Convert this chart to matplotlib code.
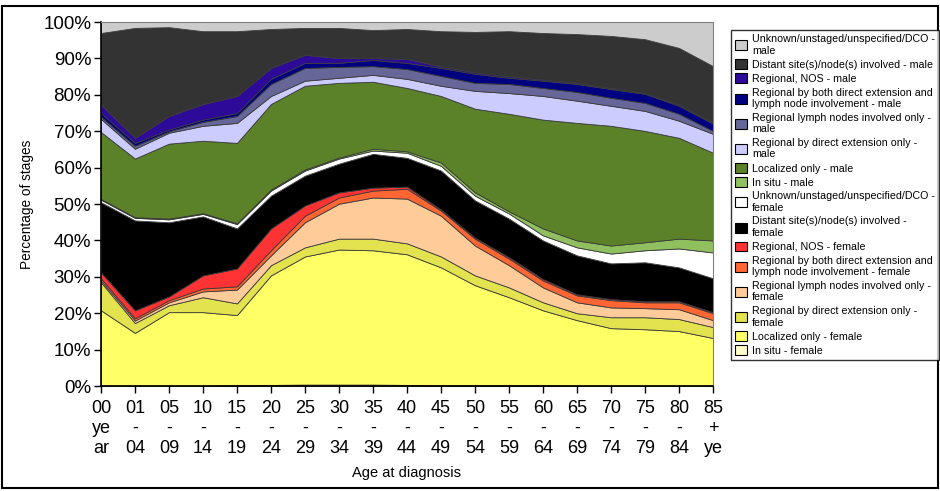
import matplotlib
matplotlib.use("Agg")
import matplotlib.pyplot as plt
from matplotlib.patches import Rectangle
import numpy as np

plt.rcParams['font.family'] = ['Liberation Sans', 'DejaVu Sans']

ages = ["00\nye\nar", "01\n-\n04", "05\n-\n09", "10\n-\n14", "15\n-\n19", "20\n-\n24",
        "25\n-\n29", "30\n-\n34", "35\n-\n39", "40\n-\n44", "45\n-\n49", "50\n-\n54",
        "55\n-\n59", "60\n-\n64", "65\n-\n69", "70\n-\n74", "75\n-\n79", "80\n-\n84", "85\n+\nye"]

# percent of cases by stage, bottom of the stack first
in_situ_f = [0.1, 0.1, 0.1, 0.1, 0.2, 0.3, 0.4, 0.4, 0.4, 0.3, 0.2, 0.2, 0.2, 0.2, 0.1, 0.1, 0.1, 0.1, 0.1]
localized_f = [20.7, 14.5, 20.2, 20.2, 19.3, 30.1, 35.2, 37.1, 36.9, 35.9, 32.4, 27.5, 24.2, 20.6, 18.0, 15.8, 15.5, 15.0, 13.1]
direct_f = [7.7, 2.7, 1.9, 4.1, 3.2, 2.8, 2.5, 3.0, 3.2, 3.0, 3.0, 2.7, 2.7, 2.2, 1.9, 3.0, 3.3, 3.3, 3.0]
lymph_f = [0.5, 0.7, 0.8, 1.6, 3.8, 2.7, 6.9, 9.6, 11.3, 12.3, 11.2, 8.2, 6.1, 4.1, 3.0, 2.7, 2.5, 2.7, 1.9]
both_f = [0.6, 0.6, 0.6, 0.8, 0.9, 1.4, 1.8, 1.7, 1.9, 2.7, 1.4, 1.9, 1.8, 1.9, 1.9, 2.0, 1.6, 1.9, 1.9]
nos_f = [1.6, 2.2, 1.0, 3.6, 4.9, 6.0, 2.8, 1.4, 0.8, 0.6, 0.3, 0.3, 0.4, 0.4, 0.3, 0.3, 0.3, 0.3, 0.3]
distant_f = [19.3, 24.7, 20.4, 16.2, 11.0, 9.0, 8.2, 7.9, 9.3, 7.9, 10.7, 10.2, 10.6, 10.6, 10.7, 9.8, 10.7, 9.3, 9.3]
unknown_f = [0.7, 0.7, 0.8, 0.7, 1.2, 1.4, 1.4, 1.4, 0.9, 1.4, 1.3, 1.3, 1.4, 1.4, 2.2, 2.7, 3.3, 5.2, 7.1]
in_situ_m = [0.2, 0.2, 0.2, 0.2, 0.2, 0.3, 0.3, 0.3, 0.5, 0.4, 0.9, 0.9, 0.6, 1.9, 1.9, 2.2, 2.2, 2.7, 3.3]
localized_m = [18.4, 16.1, 20.6, 19.9, 22.1, 23.5, 23.0, 20.5, 18.4, 17.4, 18.3, 23.0, 26.8, 29.9, 32.3, 32.9, 30.6, 27.7, 24.1]
direct_m = [3.6, 2.7, 3.0, 4.1, 5.5, 2.2, 1.4, 1.4, 1.9, 2.5, 2.8, 4.9, 5.7, 6.5, 6.1, 5.5, 5.5, 4.7, 5.2]
lymph_m = [0.6, 0.8, 0.4, 1.1, 1.9, 3.3, 3.5, 3.0, 2.4, 2.7, 2.7, 2.2, 2.5, 2.2, 2.4, 2.2, 2.2, 1.9, 0.8]
both_m = [1.0, 0.8, 0.5, 0.6, 0.8, 1.4, 1.4, 1.1, 1.7, 1.7, 2.2, 2.5, 1.7, 2.0, 2.2, 2.4, 2.5, 2.2, 2.0]
nos_m = [2.3, 1.4, 3.7, 4.3, 4.7, 3.0, 2.2, 1.3, 0.5, 1.1, 0.4, 0.4, 0.4, 0.3, 0.3, 0.3, 0.2, 0.3, 0.3]
distant_m = [19.7, 30.2, 24.4, 20.0, 17.8, 10.7, 7.4, 8.3, 7.7, 8.2, 9.7, 11.1, 12.4, 12.8, 13.4, 14.3, 14.8, 15.6, 15.5]
unknown_m = [3.0, 1.6, 1.4, 2.5, 2.5, 1.9, 1.6, 1.6, 2.2, 1.9, 2.5, 2.7, 2.5, 3.0, 3.3, 3.8, 4.7, 7.1, 12.1]

series = [in_situ_f, localized_f, direct_f, lymph_f, both_f, nos_f, distant_f, unknown_f,
          in_situ_m, localized_m, direct_m, lymph_m, both_m, nos_m, distant_m, unknown_m]
labels = ["In situ - female", "Localized only - female",
          "Regional by direct extension only -\nfemale",
          "Regional lymph nodes involved only -\nfemale",
          "Regional by both direct extension and\nlymph node involvement - female",
          "Regional, NOS - female", "Distant site(s)/node(s) involved -\nfemale",
          "Unknown/unstaged/unspecified/DCO -\nfemale",
          "In situ - male", "Localized only - male",
          "Regional by direct extension only -\nmale",
          "Regional lymph nodes involved only -\nmale",
          "Regional by both direct extension and\nlymph node involvement - male",
          "Regional, NOS - male", "Distant site(s)/node(s) involved - male",
          "Unknown/unstaged/unspecified/DCO -\nmale"]
colors = ["#ffffcc", "#ffff66", "#e3e34f", "#ffcc99", "#ff6633", "#ff3333", "#000000", "#ffffff",
          "#8fbf5f", "#5b8229", "#ccccff", "#666699", "#000080", "#2e0a99", "#333333", "#cccccc"]

data = np.array(series, dtype=float)
data = data / data.sum(axis=0) * 100
x = np.arange(len(ages))

fig = plt.figure(figsize=(9.4, 4.91), dpi=100)
ax = fig.add_axes([0.1074, 0.2138, 0.6511, 0.7412])

polys = ax.stackplot(x, data, colors=colors, labels=labels,
                     edgecolor="#3a3a3a", linewidth=0.6)

ax.set_xlim(0, len(ages) - 1)
ax.set_ylim(0, 100)
ax.set_yticks(np.arange(0, 101, 10))
ax.set_yticklabels([f"{v}%" for v in range(0, 101, 10)], fontsize=13.5)
ax.set_xticks(x)
ax.set_xticklabels(ages, fontsize=13, linespacing=1.25)
ax.tick_params(direction="out", length=5, width=1, color="black", pad=2)
ax.tick_params(axis="x", pad=5)
ax.set_xlabel("Age at diagnosis", fontsize=10.5, labelpad=6)
ax.set_ylabel("Percentage of stages", fontsize=9.8)
ax.yaxis.set_label_coords(-0.11, 0.5)
for side in ["top", "right"]:
    ax.spines[side].set_color("#808080")
for side in ["left", "bottom"]:
    ax.spines[side].set_color("black")
    ax.spines[side].set_linewidth(1.2)

handles, labs = ax.get_legend_handles_labels()
leg = fig.legend(handles[::-1], labs[::-1], loc="upper left",
                 bbox_to_anchor=(0.7777, 0.939), fontsize=7.7, frameon=True,
                 fancybox=False, edgecolor="black", handlelength=1.05,
                 handleheight=1.05, handletextpad=0.5, labelspacing=0.33,
                 borderpad=0.4, borderaxespad=0)
leg.get_frame().set_linewidth(1.0)
for h in leg.legend_handles:
    h.set_edgecolor("black")
    h.set_linewidth(0.8)

# frame round the whole figure
fig.patches.append(Rectangle((0.002, 0.006), 0.996, 0.982, transform=fig.transFigure,
                             fill=False, edgecolor="black", linewidth=1.5))

fig.savefig("out.png", dpi=100)
